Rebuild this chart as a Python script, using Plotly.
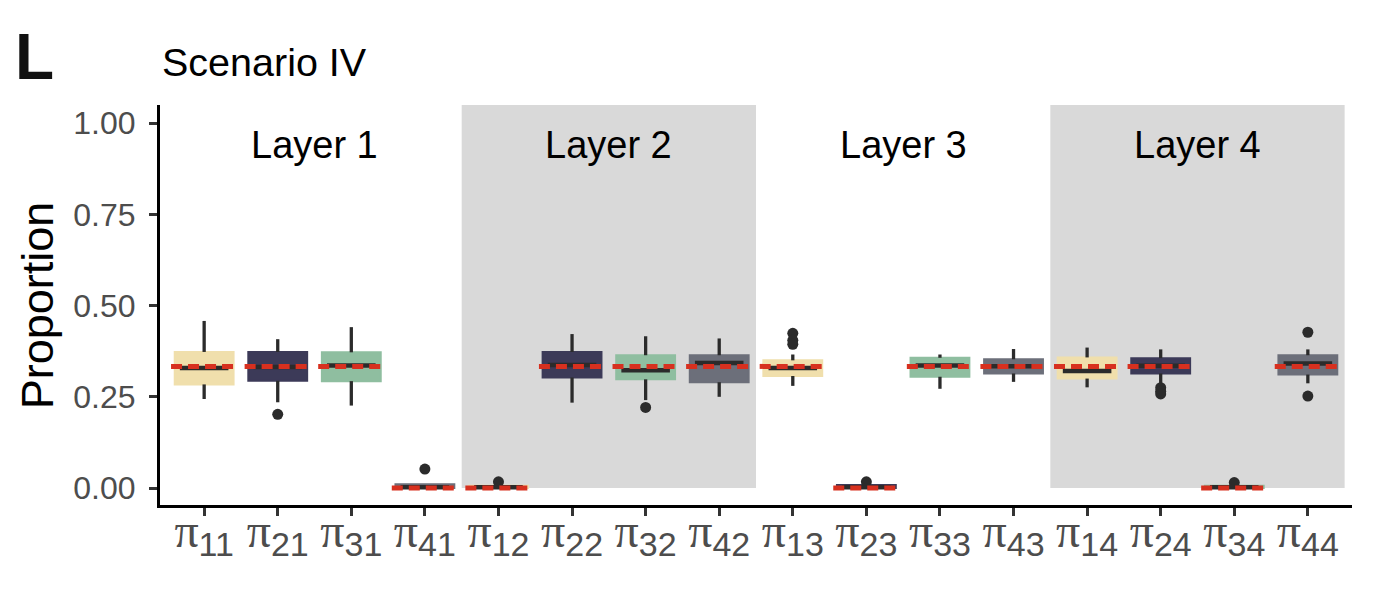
import plotly.graph_objects as go

# ---- data ----
labels = ["11", "21", "31", "41", "12", "22", "32", "42",
          "13", "23", "33", "43", "14", "24", "34", "44"]
group = [1, 2, 3, 4, 1, 2, 3, 4, 1, 2, 3, 4, 1, 2, 3, 4]
q1 = [0.284, 0.294, 0.293, 0.0, 0.0, 0.303, 0.298, 0.290,
      0.307, 0.0, 0.305, 0.314, 0.300, 0.314, 0.0, 0.311]
median = [0.329, 0.332, 0.336, 0.002, 0.002, 0.337, 0.323, 0.343,
          0.329, 0.002, 0.336, 0.334, 0.321, 0.335, 0.002, 0.341]
q3 = [0.373, 0.373, 0.372, 0.010, 0.006, 0.373, 0.364, 0.364,
      0.350, 0.008, 0.357, 0.353, 0.358, 0.356, 0.006, 0.364]
lower = [0.244, 0.235, 0.226, 0.0, 0.0, 0.234, 0.241, 0.250,
         0.280, 0.0, 0.272, 0.291, 0.276, 0.287, 0.0, 0.287]
upper = [0.458, 0.408, 0.441, 0.010, 0.006, 0.422, 0.416, 0.410,
         0.366, 0.008, 0.366, 0.381, 0.385, 0.380, 0.006, 0.380]
outliers = [[], [0.202], [], [0.052], [0.017], [], [0.221], [],
            [0.424, 0.405, 0.394], [0.017], [], [], [], [0.275, 0.265, 0.258], [0.015], [0.427, 0.252]]
truth = [1/3, 1/3, 1/3, 0, 0, 1/3, 1/3, 1/3, 1/3, 0, 1/3, 1/3, 1/3, 1/3, 0, 1/3]
layers = ["Layer 1", "Layer 2", "Layer 3", "Layer 4"]
y_ticks = [0.0, 0.25, 0.5, 0.75, 1.0]

colors = {1: "#F0DFAC", 2: "#3C3A58", 3: "#8FBEA0", 4: "#6C6F7A"}
dark = "#2B2B2B"
red = "#D7301F"

xs = list(range(len(labels)))
fig = go.Figure()

# shaded layer backgrounds (layers 2 and 4)
for k in range(len(layers)):
    if k % 2 == 1:
        fig.add_shape(type="rect", xref="x", yref="y", x0=4 * k - 0.5, x1=4 * k + 3.5,
                      y0=0, y1=1.05, fillcolor="#D9D9D9", line=dict(width=0), layer="below")

# boxes
for g in [1, 2, 3, 4]:
    idx = [i for i in xs if group[i] == g]
    fig.add_trace(go.Box(
        x=idx,
        q1=[q1[i] for i in idx], median=[median[i] for i in idx], q3=[q3[i] for i in idx],
        lowerfence=[q1[i] for i in idx], upperfence=[q3[i] for i in idx],
        width=0.8, fillcolor=colors[g], line=dict(color=colors[g], width=2),
        whiskerwidth=0, boxpoints=False, showlegend=False, hoverinfo="skip"))

# whiskers (outside the box only)
wx, wy = [], []
for i in xs:
    if upper[i] > q3[i]:
        wx += [i, i, None]
        wy += [q3[i], upper[i], None]
    if lower[i] < q1[i]:
        wx += [i, i, None]
        wy += [lower[i], q1[i], None]
fig.add_trace(go.Scatter(x=wx, y=wy, mode="lines", line=dict(color=dark, width=3.3),
                         hoverinfo="skip", showlegend=False))

# outliers
ox, oy = [], []
for i in xs:
    for v in outliers[i]:
        ox.append(i)
        oy.append(v)
fig.add_trace(go.Scatter(x=ox, y=oy, mode="markers",
                         marker=dict(color=dark, size=11, line=dict(width=0)),
                         showlegend=False))

# medians
mx, my = [], []
for i in xs:
    mx += [i - 0.33, i + 0.33, None]
    my += [median[i], median[i], None]
fig.add_trace(go.Scatter(x=mx, y=my, mode="lines", line=dict(color=dark, width=4.5),
                         hoverinfo="skip", showlegend=False))

# true values (red dashed)
tx, ty = [], []
for i in xs:
    tx += [i - 0.45, i + 0.45, None]
    ty += [truth[i], truth[i], None]
fig.add_trace(go.Scatter(x=tx, y=ty, mode="lines",
                         line=dict(color=red, width=5, dash="11px,6px"),
                         hoverinfo="skip", showlegend=False))

# layer labels
for k, name in enumerate(layers):
    fig.add_annotation(x=4 * k + 1.5, y=0.94, xref="x", yref="y", text=name,
                       showarrow=False, font=dict(size=38, color="black"))

ticktext = ['<span style="font-family:Liberation Serif;font-size:48px">π</span>'
            '<sub><span style="font-size:34px">' + s + '</span></sub>' for s in labels]

fig.update_xaxes(range=[-0.6, 15.6], tickvals=xs, ticktext=ticktext,
                 showline=True, linecolor="black", linewidth=3,
                 ticks="outside", ticklen=8, tickwidth=3, tickcolor="#333333",
                 tickfont=dict(size=44, color="#4D4D4D", family="Liberation Sans"),
                 ticklabelstandoff=-22,
                 showgrid=False, zeroline=False)
fig.update_yaxes(range=[-0.0466, 1.05], tickvals=y_ticks,
                 ticktext=["%.2f" % v for v in y_ticks],
                 showline=True, linecolor="black", linewidth=3,
                 ticks="outside", ticklen=8, tickwidth=3, tickcolor="#333333",
                 tickfont=dict(size=32, color="#4D4D4D", family="Liberation Sans"),
                 ticklabelstandoff=7,
                 showgrid=False, zeroline=False)

fig.add_annotation(x=-0.103, y=0.5, xref="paper", yref="paper", text="Proportion",
                   textangle=-90, xanchor="center", yanchor="middle", showarrow=False,
                   font=dict(size=45, color="black"))
fig.add_annotation(x=0.0, y=1.1075, xref="paper", yref="paper", text="Scenario IV",
                   xanchor="left", yanchor="middle", showarrow=False,
                   font=dict(size=39.5, color="black"))
fig.add_annotation(x=-0.123, y=1.12, xref="paper", yref="paper", text="<b>L</b>",
                   xanchor="left", yanchor="middle", showarrow=False,
                   font=dict(size=64, color="#111111"))

fig.update_layout(width=1368, height=585, margin=dict(l=152, r=24, t=97, b=88),
                  plot_bgcolor="white", paper_bgcolor="white",
                  font=dict(family="Liberation Sans"), showlegend=False)

fig.write_html("out.html")
